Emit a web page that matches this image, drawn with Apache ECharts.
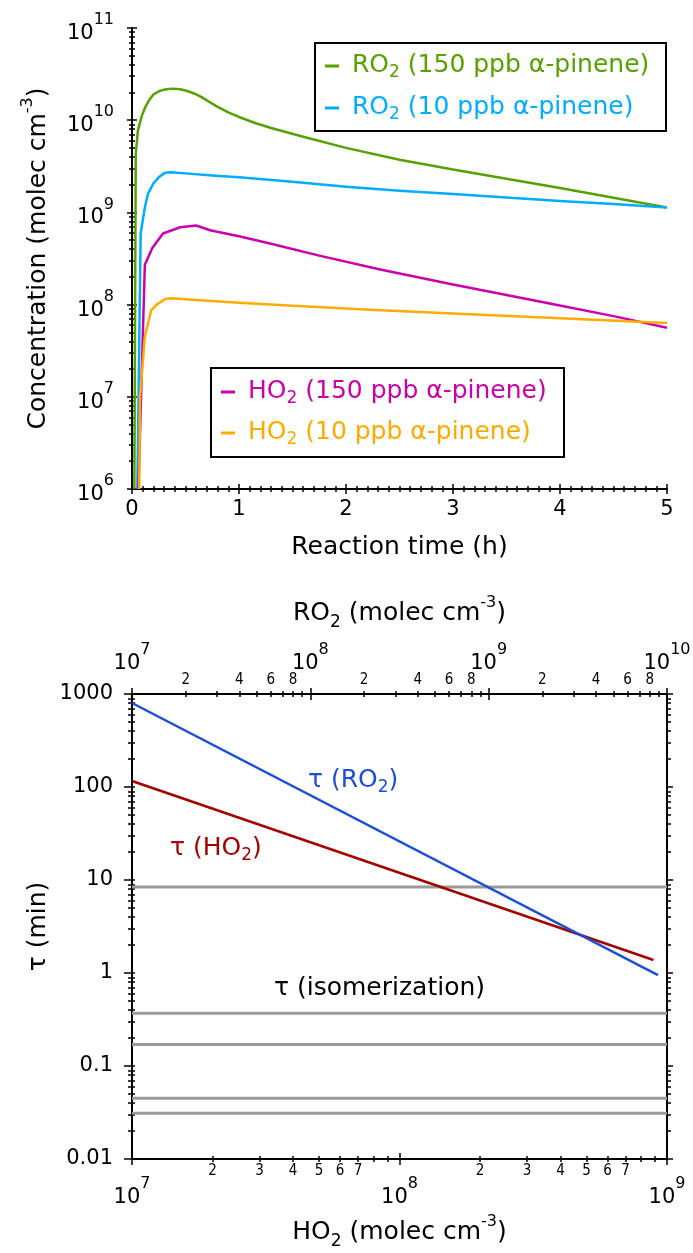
<!DOCTYPE html>
<html>
<head>
<meta charset="utf-8">
<script src="https://cdn.jsdelivr.net/npm/echarts@6/dist/echarts.min.js"></script>
<style>
  html, body { margin: 0; padding: 0; background: #fff; }
  #chart { width: 693px; height: 1253px; }
</style>
</head>
<body>
<div id="chart"></div>
<script>
// ---------- Upper panel: radical concentrations vs. reaction time ----------
const tRO2_150 = [0.022, 0.035, 0.055, 0.09, 0.12, 0.16, 0.2, 0.26, 0.32, 0.38, 0.45, 0.5, 0.55, 0.6, 0.65, 0.7, 0.8, 0.9, 1.0, 1.15, 1.3, 1.6, 2.0, 2.5, 3.0, 3.5, 4.0, 4.5, 5.0];
const ro2_150  = [1e6, 4.3e9, 7.7e9, 1.1e10, 1.35e10, 1.65e10, 1.9e10, 2.08e10, 2.17e10, 2.2e10, 2.163e10, 2.099e10, 2.009e10, 1.905e10, 1.778e10, 1.641e10, 1.396e10, 1.216e10, 1.084e10, 9.33e9, 8.22e9, 6.61e9, 5.01e9, 3.72e9, 2.92e9, 2.32e9, 1.84e9, 1.445e9, 1.13e9];

const tRO2_10 = [0.05, 0.081, 0.12, 0.15, 0.2, 0.25, 0.31, 0.36, 0.5, 0.75, 1.0, 1.5, 2.0, 2.5, 3.0, 3.5, 4.0, 4.5, 5.0];
const ro2_10  = [1e6, 5.9e8, 1.13e9, 1.6e9, 2.06e9, 2.4e9, 2.7e9, 2.72e9, 2.65e9, 2.52e9, 2.4e9, 2.15e9, 1.9e9, 1.72e9, 1.58e9, 1.45e9, 1.33e9, 1.23e9, 1.13e9];

const tHO2_150 = [0.06, 0.12, 0.19, 0.29, 0.45, 0.6, 0.73, 1.0, 1.29, 1.75, 2.32, 3.0, 3.88, 4.5, 5.0];
const ho2_150  = [1e6, 2.7e8, 4.1e8, 5.9e8, 6.9e8, 7.2e8, 6.4e8, 5.5e8, 4.6e8, 3.4e8, 2.4e8, 1.65e8, 1.04e8, 7.5e7, 5.6e7];

const tHO2_10 = [0.068, 0.075, 0.12, 0.18, 0.23, 0.31, 0.37, 0.6, 1.0, 1.5, 2.32, 3.0, 4.0, 5.0];
const ho2_10  = [1e6, 1e7, 4.5e7, 8.7e7, 1.0e8, 1.15e8, 1.17e8, 1.12e8, 1.05e8, 9.7e7, 8.7e7, 8.0e7, 7.1e7, 6.3e7];

const concNames  = ['RO2 (150 ppb α-pinene)', 'RO2 (10 ppb α-pinene)', 'HO2 (150 ppb α-pinene)', 'HO2 (10 ppb α-pinene)'];
const concColors = ['#56a000', '#00acff', '#cc00aa', '#ffaa00'];
const timeTicks  = [0, 1, 2, 3, 4, 5];
const concExp    = [6, 11];          // decades shown on the concentration axis

// ---------- Lower panel: lifetimes vs. radical concentration ----------
const ho2Ends  = [1e7, 8.9e8];   const tauHO2 = [116, 1.38];
const ro2Ends  = [1e7, 8.9e9];   const tauRO2 = [800, 0.95];
const tauIsom  = [8.4, 0.37, 0.17, 0.045, 0.031];
const ho2Exp   = [7, 9];
const ro2Exp   = [7, 10];
const tauExp   = [-2, 3];
const ho2MinorLabels = [2, 3, 4, 5, 6, 7];
const ro2MinorLabels = [2, 4, 6, 8];
const minorDigits    = [2, 3, 4, 5, 6, 7, 8, 9];

const FONT = '"DejaVu Sans", Verdana, sans-serif';
const FONT_SMALL = '"DejaVu Sans Condensed", "DejaVu Sans", sans-serif';

function decades(e) { const out = []; for (let k = e[0]; k <= e[1]; k++) out.push(Math.pow(10, k)); return out; }
function minors(e, digits) { const out = []; for (let k = e[0]; k < e[1]; k++) digits.forEach(d => out.push(d * Math.pow(10, k))); return out; }
function pairs(xs, ys) { return xs.map((x, i) => [x, ys[i]]); }
// "RO2 (...)" -> "{n|RO}{sub|2}{n| (...)}"
function richLabel(label) {
  return '{n|' + label.replace(/([A-Z]O)2/g, '$1}{sub|2}{n|') + '}';
}

const decRich = {
  b: { fontSize: 21, lineHeight: 32, verticalAlign: 'bottom', color: '#000', fontFamily: FONT },
  s: { fontSize: 16, verticalAlign: 'top', color: '#000', fontFamily: FONT }
};
const decFmt = v => '{b|10}{s|' + Math.round(Math.log10(v)) + '}';
const nameRich = {
  n:   { fontSize: 25, lineHeight: 36, verticalAlign: 'middle', color: '#000', fontFamily: FONT },
  sub: { fontSize: 17, verticalAlign: 'bottom', color: '#000', fontFamily: FONT },
  sup: { fontSize: 16, verticalAlign: 'top', color: '#000', fontFamily: FONT }
};
const txtRich = {
  n:   { fontSize: 25, lineHeight: 32, verticalAlign: 'middle', fontFamily: FONT },
  sub: { fontSize: 17, verticalAlign: 'bottom', fontFamily: FONT }
};

const TICK = { color: '#000', width: 1.5 };
const LINE = { show: true, lineStyle: { color: '#000', width: 2 } };

// an extra axis layer that only draws tick marks (used to make ticks cross the axis line)
function tickLayer(base, values, inside, length) {
  return Object.assign({}, base, {
    name: '',
    axisLine: { show: false },
    axisLabel: { show: false },
    splitLine: { show: false },
    minorTick: { show: false },
    axisTick: { show: true, inside: inside, length: length, customValues: values, lineStyle: TICK }
  });
}

const concMajor = decades(concExp);
const concMinor = minors(concExp, minorDigits);
const ho2Major = decades(ho2Exp), ho2Minor = minors(ho2Exp, minorDigits), ho2MinorLab = minors(ho2Exp, ho2MinorLabels);
const ro2Major = decades(ro2Exp), ro2Minor = minors(ro2Exp, minorDigits), ro2MinorLab = minors(ro2Exp, ro2MinorLabels);
const tauMajor = decades(tauExp), tauMinor = minors(tauExp, minorDigits);
const digitFmt = v => String(Math.round(v / Math.pow(10, Math.floor(Math.log10(v) + 1e-9))));
const plainFmt = v => String(Number(v.toPrecision(3)));

// ---- axes ----
const timeBase = { type: 'value', gridIndex: 0, position: 'bottom', min: timeTicks[0], max: timeTicks[timeTicks.length - 1], interval: 1 };
const concBase = { type: 'log', logBase: 10, gridIndex: 0, position: 'left', min: concMajor[0], max: concMajor[concMajor.length - 1] };
const ho2Base  = { type: 'log', logBase: 10, gridIndex: 1, position: 'bottom', min: ho2Major[0], max: ho2Major[ho2Major.length - 1] };
const ro2Base  = { type: 'log', logBase: 10, gridIndex: 1, position: 'top', min: ro2Major[0], max: ro2Major[ro2Major.length - 1] };
const tauBase  = { type: 'log', logBase: 10, gridIndex: 1, position: 'left', min: tauMajor[0], max: tauMajor[tauMajor.length - 1] };

const xAxes = [
  // 0: reaction time
  Object.assign({}, timeBase, {
    axisLine: LINE,
    axisTick: { show: true, length: 5, lineStyle: TICK },
    minorTick: { show: true, splitNumber: 10, length: 3, lineStyle: TICK },
    axisLabel: { show: true, fontSize: 21, color: '#000', fontFamily: FONT, margin: 10 },
    splitLine: { show: false },
    name: 'Reaction time (h)', nameLocation: 'middle', nameGap: 46, nameMoveOverlap: false,
    nameTextStyle: { fontSize: 25, color: '#000', fontFamily: FONT }
  }),
  // 1: inner half of time ticks
  Object.assign({}, timeBase, {
    name: '', axisLine: { show: false }, axisLabel: { show: false }, splitLine: { show: false },
    axisTick: { show: true, inside: true, length: 5, lineStyle: TICK },
    minorTick: { show: true, splitNumber: 10, length: 3, lineStyle: TICK }
  }),
  // 2: HO2 axis (bottom)
  Object.assign({}, ho2Base, {
    axisLine: LINE,
    axisTick: { show: true, length: 6, customValues: ho2Major, lineStyle: TICK },
    minorTick: { show: false },
    axisLabel: { show: true, customValues: ho2Major, formatter: decFmt, rich: decRich, margin: 17 },
    splitLine: { show: false },
    name: '{n|HO}{sub|2}{n| (molec cm}{sup|-3}{n|)}', nameLocation: 'middle', nameGap: 55, nameMoveOverlap: false,
    nameTextStyle: { rich: nameRich, fontFamily: FONT }
  }),
  tickLayer(ho2Base, ho2Major, true, 6),
  // 4: HO2 minor labels + outer minor ticks
  Object.assign(tickLayer(ho2Base, ho2Minor, false, 3), {
    axisLabel: { show: true, customValues: ho2MinorLab, formatter: digitFmt, fontSize: 15, color: '#000', fontFamily: FONT_SMALL, margin: 5 }
  }),
  tickLayer(ho2Base, ho2Minor, true, 3),
  // 6: RO2 axis (top)
  Object.assign({}, ro2Base, {
    axisLine: LINE,
    axisTick: { show: true, length: 6, customValues: ro2Major, lineStyle: TICK },
    minorTick: { show: false },
    axisLabel: { show: true, customValues: ro2Major, formatter: decFmt, rich: decRich, margin: 20 },
    splitLine: { show: false },
    name: '{n|RO}{sub|2}{n| (molec cm}{sup|-3}{n|)}', nameLocation: 'middle', nameGap: 63, nameMoveOverlap: false,
    nameTextStyle: { rich: nameRich, fontFamily: FONT }
  }),
  tickLayer(ro2Base, ro2Major, true, 6),
  Object.assign(tickLayer(ro2Base, ro2Minor, false, 3), {
    axisLabel: { show: true, customValues: ro2MinorLab, formatter: digitFmt, fontSize: 15, color: '#000', fontFamily: FONT_SMALL, margin: 6 }
  }),
  tickLayer(ro2Base, ro2Minor, true, 3)
];

const yAxes = [
  // 0: concentration
  Object.assign({}, concBase, {
    axisLine: LINE,
    axisTick: { show: true, length: 5, customValues: concMajor, lineStyle: TICK },
    minorTick: { show: false },
    axisLabel: { show: true, customValues: concMajor, formatter: decFmt, rich: decRich, margin: 18 },
    splitLine: { show: false },
    name: '{n|Concentration (molec cm}{sup|-3}{n|)}', nameLocation: 'middle', nameGap: 76, nameMoveOverlap: false,
    nameTextStyle: { rich: nameRich, fontFamily: FONT }
  }),
  tickLayer(concBase, concMajor, true, 5),
  tickLayer(concBase, concMinor, false, 3),
  tickLayer(concBase, concMinor, true, 3),
  // 4: lifetime (left)
  Object.assign({}, tauBase, {
    axisLine: LINE,
    axisTick: { show: true, length: 8, customValues: tauMajor, lineStyle: TICK },
    minorTick: { show: false },
    axisLabel: { show: true, customValues: tauMajor, formatter: plainFmt, fontSize: 21, color: '#000', fontFamily: FONT, margin: 19 },
    splitLine: { show: false },
    name: '{n|τ (min)}', nameLocation: 'middle', nameGap: 76, nameMoveOverlap: false,
    nameTextStyle: { rich: nameRich, fontFamily: FONT }
  }),
  tickLayer(tauBase, tauMinor, false, 4),
  tickLayer(tauBase, tauMajor.concat(tauMinor), true, 3),
  // 7: lifetime (right frame)
  Object.assign(tickLayer(Object.assign({}, tauBase, { position: 'right' }), tauMajor, false, 6), { axisLine: LINE }),
  tickLayer(Object.assign({}, tauBase, { position: 'right' }), tauMinor, false, 4)
];

// ---- series ----
const concSeries = [
  pairs(tRO2_150, ro2_150), pairs(tRO2_10, ro2_10), pairs(tHO2_150, ho2_150), pairs(tHO2_10, ho2_10)
].map((d, i) => ({
  type: 'line', name: concNames[i], xAxisIndex: 0, yAxisIndex: 0, data: d,
  symbol: 'none', lineStyle: { color: concColors[i], width: 2.5, join: 'round' }, itemStyle: { color: concColors[i] }, z: 3
}));

const tauColors = { ro2: '#1a4fd6', ho2: '#a30000', isom: '#9a9a9a' };
const isomSeries = tauIsom.map(v => ({
  type: 'line', name: 'τ (isomerization)', xAxisIndex: 2, yAxisIndex: 4,
  data: [[ho2Major[0], v], [ho2Major[ho2Major.length - 1], v]],
  symbol: 'none', lineStyle: { color: tauColors.isom, width: 3 }, z: 2
}));
const tauSeries = [
  { type: 'line', name: 'τ (HO2)', xAxisIndex: 2, yAxisIndex: 4, data: pairs(ho2Ends, tauHO2),
    symbol: 'none', lineStyle: { color: tauColors.ho2, width: 2.5 }, z: 3 },
  { type: 'line', name: 'τ (RO2)', xAxisIndex: 6, yAxisIndex: 4, data: pairs(ro2Ends, tauRO2),
    symbol: 'none', lineStyle: { color: tauColors.ro2, width: 2.5 }, z: 3 }
];

// ---- legend boxes and curve annotations ----
function legendBox(x, y, w, h, idx, lineY) {
  const els = [{ type: 'rect', shape: { x: x, y: y, width: w, height: h },
    style: { fill: '#fff', stroke: '#000', lineWidth: 2 }, z: 100 }];
  idx.forEach((k, j) => {
    els.push({ type: 'line', z: 101, shape: { x1: x + 10, y1: lineY[j] + 1, x2: x + 24, y2: lineY[j] + 1 },
               style: { stroke: concColors[k], lineWidth: 3 } });
    els.push({ type: 'text', x: x + 37, y: lineY[j], z: 101,
               style: { text: richLabel(concNames[k]), rich: txtRich, fill: concColors[k], verticalAlign: 'middle', fontFamily: FONT } });
  });
  return els;
}
function note(x, y, label, color) {
  return { type: 'text', x: x, y: y, z: 101,
    style: { text: richLabel(label), rich: txtRich, fill: color, verticalAlign: 'middle', fontFamily: FONT } };
}

const graphics = []
  .concat(legendBox(315, 43, 351, 88, [0, 1], [65, 107]))
  .concat(legendBox(211, 368, 353, 89, [2, 3], [391, 432]))
  .concat([
    note(308, 780, 'τ (RO2)', tauColors.ro2),
    note(170, 848, 'τ (HO2)', tauColors.ho2),
    note(274, 988, 'τ (isomerization)', '#000')
  ]);

const chart = echarts.init(document.getElementById('chart'), null, { renderer: 'canvas' });
chart.setOption({
  animation: false,
  backgroundColor: '#fff',
  textStyle: { fontFamily: FONT },
  grid: [
    { left: 132, top: 28, right: 26, bottom: 764, containLabel: false, outerBoundsMode: 'none' },
    { left: 132, top: 694, right: 26, bottom: 94, containLabel: false, outerBoundsMode: 'none' }
  ],
  xAxis: xAxes,
  yAxis: yAxes,
  series: concSeries.concat(isomSeries, tauSeries),
  graphic: graphics
});
</script>
</body>
</html>
